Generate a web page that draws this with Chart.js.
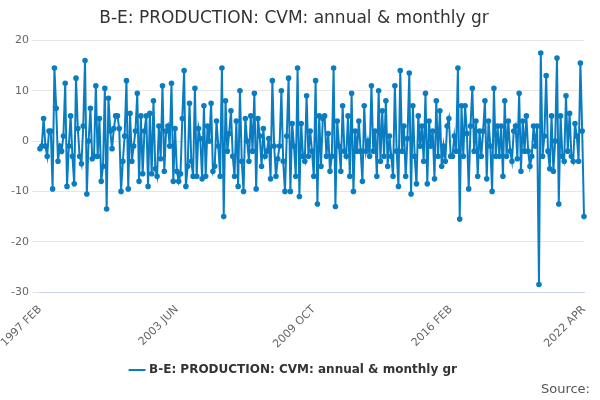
<!DOCTYPE html>
<html>
<head>
<meta charset="utf-8">
<script src="https://cdn.jsdelivr.net/npm/chart.js@4/dist/chart.umd.min.js"></script>
<style>
  body { margin: 0; background: #fff; font-family: "DejaVu Sans", sans-serif; }
  #wrap { position: relative; width: 600px; height: 400px; }
  #src { position: absolute; right: 10px; bottom: 4px; font-size: 13px; color: #555; }
</style>
</head>
<body>
<div id="wrap">
  <canvas id="c" width="600" height="400"></canvas>
  <div id="src">Source:</div>
</div>
<script>
// --- DATOS ---
const seriesName = 'B-E: PRODUCTION: CVM: annual & monthly gr';
const startYear = 1997, startMonth = 1; // FEB
const monthNames = ['JAN','FEB','MAR','APR','MAY','JUN','JUL','AUG','SEP','OCT','NOV','DEC'];
const tickIdx = [0, 76, 152, 228, 302];

const values = [
  -1.5,-1,4.5,-1,-3,2,2,-9.5,14.5,6.5,-4,-1,-2,1,11.5,-9,-1,5,-3,-8.5,12.5,2.5,-3,-4.5,3,16,-10.5,0,6.5,-3.5,
  -3,11,-3,4.5,-8,-5,10.5,-13.5,8.5,2,-1.5,2.5,5,5,2.5,-10,-4,1,12,-9.5,5.5,-4,-1,2,9.5,-8,5,-6.5,2,5,
  -9,5.5,-6.5,8,-5.5,-7,3,-3.5,11,-6,2,3,-1,11.5,-8,2.5,-6,-8,-6.5,4.5,14,-9,-5,7.5,-4,-7,10.5,-7,2.5,0.5,
  -7.5,7,-7,3,0,7.5,-6,-5,4,-1,-7,14.5,-15,8,-2,1.5,6,-3,-7,4,-9,10,-4,-10,4.5,0,-4,5,-2,9.5,
  -9.5,4.5,1,-5,2.5,-3,-2,0.5,-7.5,12,-1,-7,-3.5,-1,10,-4,-10,1,12.5,-10,3.5,-1,-7,14.5,-11,3.5,-3,-4,9,-3,
  2,-2,-7,12,-12.5,5,-5,4.5,5,-3,1.5,-6,-3,14.5,-13,4,-1,-6,7,-2,-3,5,-7,9.5,-10,2,-2,4,-2,-8,
  7,-2,0,-3,11,-2,2,-7,10,-4,6,-3,8,-5,1,-3,-7,11,-2,-9,14,-2,3,-7,0.5,13.5,-10.5,7,-3,-8.5,
  5,-1,3,-4,9.5,-8.5,4,-1,2,-7.5,8,-3,6,-5,-1,-4,3,4.5,-3,-3,1,-2,14.5,-15.5,7,-3,7,1.5,-9.5,3,
  10.5,-2,4,-7,2,-3,2,8,-7.5,4,-1,-10,10.5,-3,3,-3,3,-7,8,-3,4,-2,-4,2,3,-3.5,9.5,-6,4,-2,
  5,-2,-5,-3,3,-1,3,-28.5,17.5,-3,1,13,-2,-5.5,5,-6,0,16.5,-12.5,5,-3,-4,9,-2,5.5,-3,-4,3.5,1,-4,15.5,2,-15
];

const labels = values.map((_, i) => {
  const m = startMonth + i;
  return (startYear + Math.floor(m / 12)) + ' ' + monthNames[m % 12];
});

// --- GRÁFICA ---
const color = '#0a7dc2';
new Chart(document.getElementById('c'), {
  type: 'line',
  data: {
    labels: labels,
    datasets: [{
      label: seriesName,
      data: values,
      borderColor: color,
      backgroundColor: color,
      borderWidth: 2,
      pointRadius: 1.8,
      pointHoverRadius: 3,
      tension: 0
    }]
  },
  options: {
    responsive: false,
    animation: false,
    layout: { padding: { left: 4, right: 16, bottom: 14 } },
    plugins: {
      title: {
        display: true,
        text: seriesName,
        color: '#333',
        font: { family: 'DejaVu Sans', size: 17, weight: 'normal' },
        padding: { top: 8, bottom: 12 }
      },
      legend: {
        position: 'bottom',
        labels: {
          usePointStyle: true,
          pointStyle: 'line',
          color: '#333',
          font: { family: 'DejaVu Sans', size: 12, weight: 'bold' }
        }
      }
    },
    scales: {
      x: {
        grid: { display: false },
        border: { color: '#ccd6eb' },
        ticks: {
          autoSkip: false,
          maxRotation: 45,
          minRotation: 45,
          color: '#666',
          font: { family: 'DejaVu Sans', size: 11 },
          callback: (v, i) => tickIdx.includes(i) ? labels[i] : null
        }
      },
      y: {
        min: -30,
        max: 20,
        ticks: { stepSize: 10, color: '#666', font: { family: 'DejaVu Sans', size: 11 } },
        grid: { color: '#e6e6e6' },
        border: { display: false }
      }
    }
  }
});
</script>
</body>
</html>
